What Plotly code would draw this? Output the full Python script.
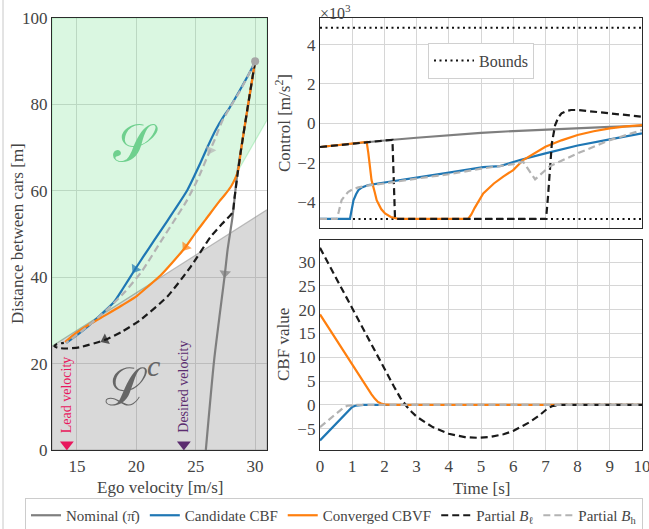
import plotly.graph_objects as go

# ---------------- Left panel: phase plane (ego velocity vs distance) ----------------
nominal_v = [30.0, 29.4, 28.8, 28.5, 28.1, 27.68, 27.46, 26.55, 25.85]
nominal_d = [90.0, 79.5, 69.4, 64.0, 54.0, 46.3, 40.9, 20.8, 0.0]

cand_v = [30.0, 29.66, 28.7, 27.82, 27.3, 26.7, 26.0, 25.42, 24.3, 23.2, 22.6, 21.5, 20.6, 19.91, 18.9, 18.1, 17.0, 16.0, 15.0, 14.1]
cand_d = [90.0, 88.0, 83.2, 79.1, 77.0, 74.2, 70.2, 66.6, 60.2, 55.5, 53.0, 48.5, 44.8, 41.9, 37.5, 34.2, 31.3, 28.8, 26.6, 24.8]

conv_v = [30.0, 29.38, 28.81, 28.58, 28.3, 27.97, 27.4, 27.0, 25.85, 25.0, 24.15, 23.0, 22.03, 21.0, 20.06, 18.8, 17.52, 16.0, 14.69, 14.0]
conv_d = [90.0, 79.5, 69.4, 64.8, 62.7, 61.0, 58.9, 57.6, 53.4, 50.3, 47.0, 43.3, 40.4, 37.9, 35.7, 33.5, 31.4, 29.0, 26.6, 25.0]

bl_v = [30.0, 29.38, 28.81, 28.53, 28.25, 28.1, 27.2, 26.27, 24.57, 22.6, 20.34, 18.8, 17.37, 15.25, 14.2, 13.5, 13.1, 13.3, 13.9]
bl_d = [90.0, 79.5, 69.4, 64.0, 58.0, 55.0, 52.3, 49.4, 42.4, 35.5, 30.1, 27.4, 25.5, 23.8, 23.5, 23.6, 24.0, 24.5, 24.8]

bh_v = [30.0, 29.66, 28.7, 27.82, 27.2, 26.7, 26.21, 25.14, 24.2, 23.4, 22.0, 21.0, 20.34, 19.0, 17.8, 16.5, 15.3, 14.1]
bh_d = [90.0, 88.0, 83.0, 79.0, 76.0, 72.5, 69.4, 62.5, 57.5, 54.0, 48.0, 43.6, 40.9, 36.5, 33.2, 30.0, 27.3, 24.8]

safe_v = [12.9, 21.0, 22.03, 23.0, 24.15, 25.0, 25.85, 27.0, 27.97, 28.6, 31.0]
safe_d = [24.0, 38.1, 40.4, 43.3, 47.0, 50.3, 53.4, 57.6, 61.0, 64.8, 76.4]

unsafe_v = [12.9, 31.0]
unsafe_d = [24.0, 55.6]

start_v = [30.0]
start_d = [90.0]

lead_velocity = 14.15
desired_velocity = 24.0

left_x_range = [12.9, 31.0]
left_y_range = [0, 100]
left_xticks = [15, 20, 25, 30]
left_yticks = [0, 20, 40, 60, 80, 100]

# ---------------- Top right: control ----------------
nom_t = [0, 1, 2, 3, 4, 5, 6, 7, 8, 9, 10]
nom_u = [-1.2, -1.02, -0.87, -0.73, -0.6, -0.48, -0.39, -0.31, -0.24, -0.18, -0.13]

cand_t = [0, 0.93, 0.97, 1.04, 1.12, 1.19, 1.3, 1.5, 2.0, 2.43, 3.0, 4.0, 5.07, 5.59, 6.21, 7.0, 8.0, 9.0, 10.0]
cand_u = [-4.85, -4.85, -4.5, -3.9, -3.6, -3.39, -3.25, -3.13, -3.0, -2.88, -2.75, -2.5, -2.22, -2.17, -1.86, -1.52, -1.12, -0.81, -0.51]

conv_t = [0, 1.0, 1.45, 1.5, 1.55, 1.6, 1.7, 1.76, 1.9, 2.02, 2.2, 2.4, 2.6, 4.6, 4.7, 4.8, 5.07, 5.4, 5.69, 6.0, 6.31, 6.7, 7.0, 7.5, 8.0, 8.5, 9.0, 9.5, 10.0]
conv_u = [-1.2, -1.02, -0.94, -1.5, -2.3, -2.88, -3.5, -3.9, -4.35, -4.57, -4.75, -4.83, -4.85, -4.85, -4.62, -4.3, -3.56, -3.05, -2.7, -2.37, -1.86, -1.5, -1.19, -0.86, -0.59, -0.4, -0.25, -0.15, -0.09]

bl_t = [0, 1, 2, 2.25, 2.33, 7.02, 7.08, 7.2, 7.3, 7.4, 7.5, 7.65, 7.8, 8.0, 9.0, 10.0]
bl_u = [-1.2, -1.02, -0.87, -0.84, -4.85, -4.85, -3.73, -1.02, -0.1, 0.3, 0.51, 0.63, 0.68, 0.68, 0.51, 0.34]

bh_t = [0, 0.52, 0.58, 0.67, 0.78, 0.88, 1.0, 1.19, 1.5, 2.0, 3.0, 4.0, 5.0, 5.59, 6.0, 6.31, 6.68, 7.14, 8.0, 9.0, 10.0]
bh_u = [-4.85, -4.85, -4.5, -3.9, -3.65, -3.47, -3.36, -3.25, -3.15, -3.05, -2.8, -2.58, -2.3, -2.17, -2.07, -1.95, -2.84, -2.17, -1.52, -0.85, -0.34]

bound_t = [0, 10]
bound_hi = [4.85, 4.85]
bound_lo = [-4.85, -4.85]

ctrl_y_range = [-5.31, 5.35]
ctrl_yticks = [-4, -2, 0, 2, 4]

# ---------------- Bottom right: CBF value ----------------
cbf_bl_t = [0, 0.5, 1.0, 1.5, 2.0, 2.3, 2.5, 2.6, 2.7, 2.85, 3.0, 3.5, 4.0, 4.5, 4.9, 5.3, 5.7, 6.0, 6.5, 6.8, 7.03, 7.2, 7.45, 8, 9, 10]
cbf_bl_v = [33.0, 26.6, 20.3, 14.0, 7.7, 3.8, 1.4, 0.4, -0.4, -1.5, -2.5, -4.7, -6.1, -6.8, -6.95, -6.75, -6.2, -5.5, -3.7, -2.3, -1.0, -0.3, 0, 0, 0, 0]

cbf_conv_t = [0, 0.5, 1.0, 1.5, 1.6, 1.7, 1.8, 1.9, 2.0, 2.2, 10]
cbf_conv_v = [19.0, 13.7, 8.4, 3.2, 2.2, 1.3, 0.6, 0.25, 0.1, 0, 0]

cbf_cand_t = [0, 0.5, 0.9, 1.0, 1.1, 1.2, 1.35, 1.6, 10]
cbf_cand_v = [-7.5, -3.9, -1.0, -0.45, -0.2, -0.1, -0.04, 0, 0]

cbf_bh_t = [0, 0.36, 0.6, 0.75, 0.85, 1.0, 1.2, 10]
cbf_bh_v = [-4.7, -2.6, -1.2, -0.5, -0.2, -0.05, 0, 0]

cbf_y_range = [-9.51, 34.65]
cbf_yticks = [-5, 0, 5, 10, 15, 20, 25, 30]
time_ticks = list(range(0, 11))

# ---------------- styles ----------------
C_NOM = "#7f7f7f"
C_CAND = "#1f77b4"
C_CONV = "#ff7f0e"
C_BL = "#1a1a1a"
C_BH = "#b3b3b3"
DASH = "7px,4px"
FONT = "Liberation Serif, Times New Roman, serif"
TXT = "#444444"
W, H = 649, 529

fig = go.Figure()

# regions (left)
fig.add_trace(go.Scatter(
    x=[left_x_range[0]] + safe_v + [left_x_range[1], left_x_range[0]],
    y=[left_y_range[1]] + safe_d + [left_y_range[1], left_y_range[1]],
    fill="toself", fillcolor="rgba(100,220,130,0.24)", mode="lines",
    line=dict(color="rgba(100,220,130,0.35)", width=1.2),
    hoverinfo="skip", showlegend=False, xaxis="x", yaxis="y"))
fig.add_trace(go.Scatter(
    x=unsafe_v + [unsafe_v[-1], unsafe_v[0], unsafe_v[0]],
    y=unsafe_d + [left_y_range[0], left_y_range[0], unsafe_d[0]],
    fill="toself", fillcolor="rgba(128,128,128,0.30)", mode="lines",
    line=dict(color="rgba(150,150,150,0.6)", width=1.2),
    hoverinfo="skip", showlegend=False, xaxis="x", yaxis="y"))

left_series = [
    (nominal_v, nominal_d, C_NOM, "solid", 6),
    (cand_v, cand_d, C_CAND, "solid", 13),
    (conv_v, conv_d, C_CONV, "solid", 10),
    (bl_v, bl_d, C_BL, DASH, 12),
    (bh_v, bh_d, C_BH, DASH, 6),
]
for xs, ys, col, dash, ai in left_series:
    fig.add_trace(go.Scatter(x=xs, y=ys, mode="lines",
                             line=dict(color=col, width=2.2, dash=dash, shape="spline", smoothing=0.6),
                             showlegend=False, hoverinfo="skip", xaxis="x", yaxis="y"))
for xs, ys, col, dash, ai in left_series:
    fig.add_trace(go.Scatter(x=[xs[ai - 1], xs[ai]], y=[ys[ai - 1], ys[ai]], mode="markers",
                             marker=dict(symbol="triangle-up", size=[0, 10], color=col,
                                         angleref="previous", line=dict(width=0)),
                             showlegend=False, hoverinfo="skip", xaxis="x", yaxis="y"))

fig.add_trace(go.Scatter(x=start_v, y=start_d, mode="markers",
                         marker=dict(color="#a6a6a6", size=8), showlegend=False,
                         hoverinfo="skip", xaxis="x", yaxis="y"))
fig.add_trace(go.Scatter(x=[lead_velocity], y=[left_y_range[0] + 1.3], mode="markers",
                         marker=dict(symbol="triangle-down", color="#e8175d", size=12),
                         showlegend=False, hoverinfo="skip", xaxis="x", yaxis="y"))
fig.add_trace(go.Scatter(x=[desired_velocity], y=[left_y_range[0] + 1.3], mode="markers",
                         marker=dict(symbol="triangle-down", color="#5b2c6f", size=12),
                         showlegend=False, hoverinfo="skip", xaxis="x", yaxis="y"))

# ---------------- control panel ----------------
fig.add_trace(go.Scatter(x=bound_t, y=bound_hi, mode="lines", name="Bounds",
                         line=dict(color="#111111", width=2, dash="2px,3.5px"),
                         legend="legend2", xaxis="x2", yaxis="y2"))
fig.add_trace(go.Scatter(x=bound_t, y=bound_lo, mode="lines", showlegend=False,
                         line=dict(color="#111111", width=2, dash="2px,3.5px"),
                         xaxis="x2", yaxis="y2"))

ctrl_series = [
    (nom_t, nom_u, C_NOM, "solid", "Nominal (π\u0302)"),
    (cand_t, cand_u, C_CAND, "solid", "Candidate CBF"),
    (conv_t, conv_u, C_CONV, "solid", "Converged CBVF"),
    (bl_t, bl_u, C_BL, DASH, "Partial <i>B</i><sub>ℓ</sub>"),
    (bh_t, bh_u, C_BH, DASH, "Partial <i>B</i><sub>h</sub>"),
]
for xs, ys, col, dash, name in ctrl_series:
    fig.add_trace(go.Scatter(x=xs, y=ys, mode="lines", name=name,
                             line=dict(color=col, width=2.2, dash=dash),
                             legend="legend", xaxis="x2", yaxis="y2"))

# ---------------- CBF panel ----------------
cbf_series = [
    (cbf_cand_t, cbf_cand_v, C_CAND, "solid"),
    (cbf_conv_t, cbf_conv_v, C_CONV, "solid"),
    (cbf_bl_t, cbf_bl_v, C_BL, DASH),
    (cbf_bh_t, cbf_bh_v, C_BH, DASH),
]
for xs, ys, col, dash in cbf_series:
    fig.add_trace(go.Scatter(x=xs, y=ys, mode="lines", showlegend=False,
                             line=dict(color=col, width=2.2, dash=dash),
                             xaxis="x3", yaxis="y3"))

# ---------------- layout ----------------
def px_x(p):
    return p / W

def px_y(p):
    return 1 - p / H

ax_common = dict(showline=True, linecolor="#2b2b2b", linewidth=1.3, mirror=True,
                 showgrid=True, gridcolor="#d6d6d6", gridwidth=1, zeroline=False,
                 automargin=False, ticks="", ticklen=0, ticklabeloverflow="allow",
                 tickfont=dict(family=FONT, size=17, color=TXT))

fig.update_layout(
    width=W, height=H, margin=dict(l=0, r=0, t=0, b=0, pad=0, autoexpand=False),
    paper_bgcolor="white", plot_bgcolor="white",
    font=dict(family=FONT, color=TXT),
    xaxis=dict(domain=[px_x(52), px_x(267)], range=left_x_range, tickvals=left_xticks,
               anchor="y", **ax_common),
    yaxis=dict(domain=[px_y(450), px_y(18)], range=left_y_range, tickvals=left_yticks,
               anchor="x", **ax_common),
    xaxis2=dict(domain=[px_x(320), px_x(642)], range=[0, 10], tickvals=time_ticks,
                showticklabels=False, anchor="y2", **ax_common),
    yaxis2=dict(domain=[px_y(228), px_y(18)], range=ctrl_y_range, tickvals=ctrl_yticks,
                anchor="x2", **ax_common),
    xaxis3=dict(domain=[px_x(320), px_x(642)], range=[0, 10], tickvals=time_ticks,
                anchor="y3", **ax_common),
    yaxis3=dict(domain=[px_y(450), px_y(240)], range=cbf_y_range, tickvals=cbf_yticks,
                anchor="x3", **ax_common),
    legend=dict(orientation="h", x=px_x(334), y=px_y(515.5), xanchor="center", yanchor="middle",
                bgcolor="white", bordercolor="#cccccc", borderwidth=1, itemwidth=30,
                font=dict(family=FONT, size=15, color=TXT), tracegroupgap=0),
    legend2=dict(x=px_x(481), y=px_y(60.5), xanchor="center", yanchor="middle",
                 bgcolor="white", bordercolor="#d0d0d0", borderwidth=1, itemwidth=40,
                 font=dict(family=FONT, size=16, color=TXT)),
    showlegend=True,
)

annots = [
    dict(x=px_x(17), y=px_y(234), text="Distance between cars [m]", textangle=-90, size=17),
    dict(x=px_x(160), y=px_y(487), text="Ego velocity [m/s]", size=17),
    dict(x=px_x(481), y=px_y(488), text="Time [s]", size=17),
    dict(x=px_x(283), y=px_y(123), text="Control [m/s<sup>2</sup>]", textangle=-90, size=17),
    dict(x=px_x(283), y=px_y(345), text="CBF value", textangle=-90, size=17),
]
for a in annots:
    fig.add_annotation(xref="paper", yref="paper", x=a["x"], y=a["y"], text=a["text"],
                       showarrow=False, textangle=a.get("textangle", 0),
                       xanchor="center", yanchor="middle",
                       font=dict(family=FONT, size=a["size"], color=TXT))

fig.add_annotation(xref="paper", yref="paper", x=px_x(318), y=px_y(12), text="×10<sup>3</sup>",
                   showarrow=False, xanchor="left", yanchor="middle",
                   font=dict(family=FONT, size=16, color=TXT))

# region labels
fig.add_annotation(xref="x", yref="y", x=19.9, y=71, text="𝒮", showarrow=False,
                   font=dict(family="DejaVu Serif, serif", size=52, color="#6fd08e"))
fig.add_annotation(xref="x", yref="y", x=19.2, y=14.6, text="ℒ", showarrow=False,
                   font=dict(family="DejaVu Serif, serif", size=52, color="#666666"))
fig.add_annotation(xref="x", yref="y", x=21.45, y=19.5, text="<i>c</i>", showarrow=False,
                   font=dict(family=FONT, size=30, color="#666666"))

fig.add_annotation(xref="x", yref="y", x=lead_velocity, y=3.5, text="Lead velocity",
                   textangle=-90, showarrow=False, yanchor="bottom",
                   font=dict(family=FONT, size=14, color="#e8175d"))
fig.add_annotation(xref="x", yref="y", x=desired_velocity, y=3.5, text="Desired velocity",
                   textangle=-90, showarrow=False, yanchor="bottom",
                   font=dict(family=FONT, size=14, color="#5b2c6f"))

fig.add_shape(type="line", xref="paper", yref="paper", x0=px_x(3), x1=px_x(3), y0=0, y1=1,
              line=dict(color="#c8c8c8", width=1))

fig.write_html("out.html", config={"displayModeBar": False},
               post_script="document.body.style.margin='0';")
